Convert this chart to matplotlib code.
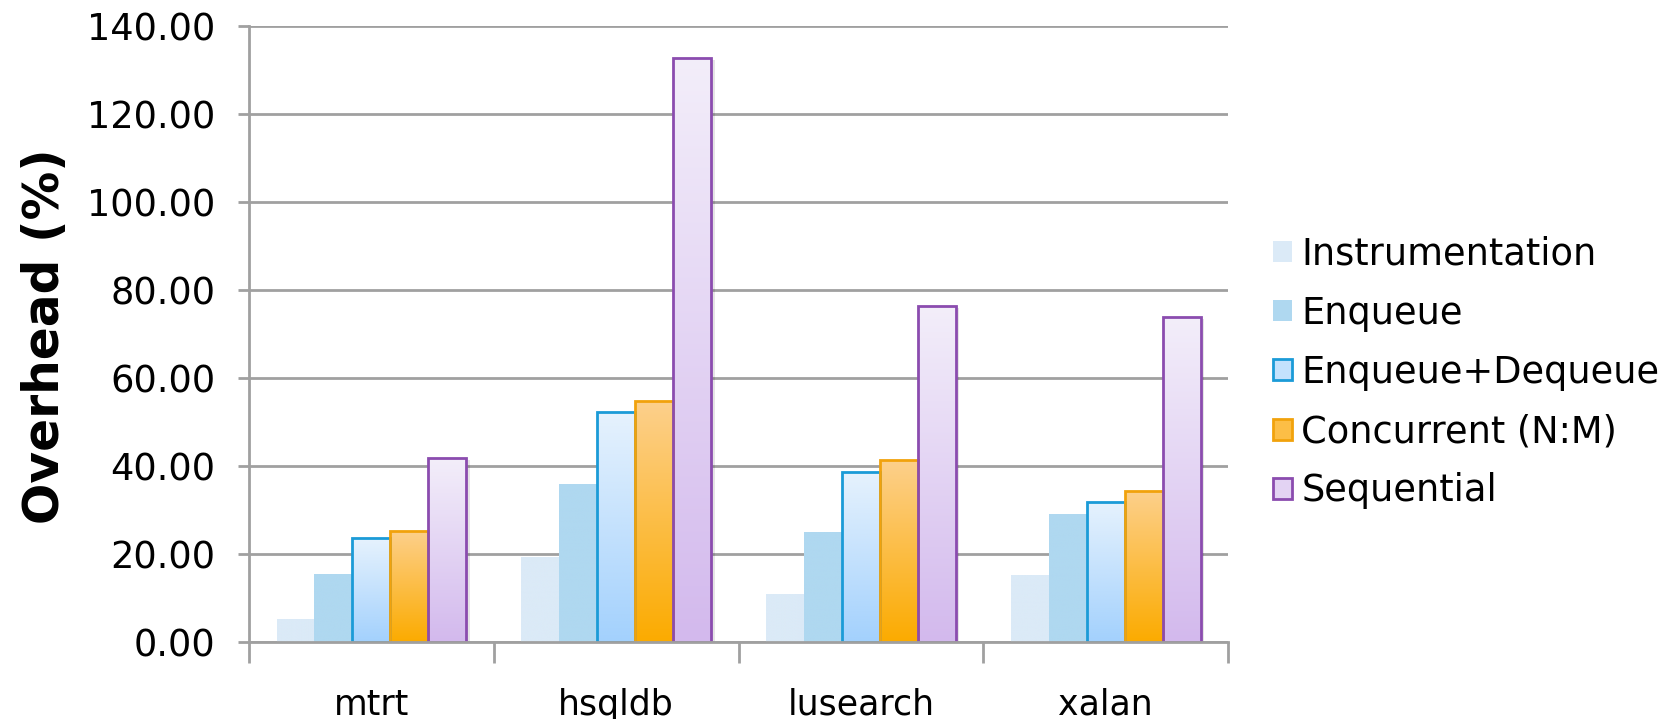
import numpy as np
import matplotlib
matplotlib.use("Agg")
import matplotlib.pyplot as plt
from matplotlib.patches import Patch
from matplotlib.colors import to_rgb
import matplotlib.patheffects as pe

# Benchmarks and overhead (%) per configuration
benchmarks = ["mtrt", "hsqldb", "lusearch", "xalan"]
series_names = ["Instrumentation", "Enqueue", "Enqueue+Dequeue",
                "Concurrent (N:M)", "Sequential"]
instrumentation = [5.3, 19.4, 10.9, 15.3]
enqueue = [15.5, 36.0, 25.1, 29.2]
enqueue_dequeue = [23.6, 52.2, 38.6, 31.9]
concurrent = [25.3, 54.7, 41.4, 34.4]
sequential = [41.8, 132.7, 76.3, 73.8]
y_ticks = [0, 20, 40, 60, 80, 100, 120, 140]

values = [instrumentation, enqueue, enqueue_dequeue, concurrent, sequential]

# (top colour, bottom colour, edge colour or None)
styles = [
    ("#dbeaf7", "#dbeaf7", None),
    ("#afd8f0", "#afd8f0", None),
    ("#e6f2fd", "#a3d1fd", "#1b9bd7"),
    ("#fdd08c", "#fbab00", "#f1a20c"),
    ("#f3eefa", "#d3b9ed", "#8b4caf"),
]

plt.rcParams["font.family"] = ["DejaVu Sans"]

fig = plt.figure(figsize=(16.71, 7.19), dpi=100)
ax = fig.add_axes([0.149, 0.107, 0.586, 0.857])

grid_col = "#a0a0a0"
bar_w = 0.155
edge_lw = 2.0
x = np.arange(len(benchmarks))

for i, (vals, (top, bot, edge)) in enumerate(zip(values, styles)):
    pos = x + (i - 2) * bar_w
    # soft drop shadow behind each bar
    ax.bar(pos, vals, width=bar_w, facecolor="none", edgecolor="none",
           zorder=1.4,
           path_effects=[pe.SimplePatchShadow(offset=(2.5, -1.5),
                                               shadow_rgbFace="k",
                                               alpha=0.10)])
    bars = ax.bar(pos, vals, width=bar_w, facecolor="none",
                  edgecolor=edge if edge else "none",
                  linewidth=edge_lw if edge else 0, zorder=2)
    c_top = np.array(to_rgb(top))
    c_bot = np.array(to_rgb(bot))
    t = np.linspace(0, 1, 256)[:, None]
    grad = (c_top[None, :] * (1 - t) + c_bot[None, :] * t)[:, None, :]
    for b in bars:
        bx, by = b.get_x(), b.get_y()
        bw, bh = b.get_width(), b.get_height()
        im = ax.imshow(grad, extent=[bx, bx + bw, by, by + bh],
                       aspect="auto", origin="upper", zorder=1.9,
                       interpolation="bilinear")
        im.set_clip_path(b)

ax.set_xlim(-0.5, len(benchmarks) - 0.5)
ax.set_ylim(0, 140)
ax.set_yticks(y_ticks)
ax.set_yticklabels([f"{v:.2f}" for v in y_ticks])
ax.yaxis.grid(True, color=grid_col, linewidth=2.0)
ax.set_axisbelow(True)

for side in ["top", "right"]:
    ax.spines[side].set_visible(False)
for side in ["left", "bottom"]:
    ax.spines[side].set_color(grid_col)
    ax.spines[side].set_linewidth(2.0)

ax.tick_params(axis="y", length=8, width=2.0, color=grid_col,
               labelsize=26.5, pad=16)
ax.set_xticks(x)
ax.set_xticklabels(benchmarks)
ax.set_xticks(np.arange(len(benchmarks) + 1) - 0.5, minor=True)
ax.tick_params(axis="x", which="major", length=0, labelsize=25, pad=33)
ax.tick_params(axis="x", which="minor", length=15, width=2.0,
               color=grid_col)

fig.text(0.027, 0.533, "Overhead (%)", rotation=90, fontsize=35,
         fontweight="bold", ha="center", va="center")

handles = []
for name, (top, bot, edge) in zip(series_names, styles):
    mid = tuple((np.array(to_rgb(top)) + np.array(to_rgb(bot))) / 2)
    handles.append(Patch(facecolor=mid, edgecolor=edge if edge else mid,
                         linewidth=edge_lw if edge else 0, label=name))

fig.legend(handles=handles, loc="upper left",
           bbox_to_anchor=(0.762, 0.672), frameon=False, fontsize=26.5,
           handlelength=0.5, handleheight=0.5, handletextpad=0.26,
           labelspacing=0.6, borderpad=0, borderaxespad=0)

fig.savefig("out.png", dpi=100, facecolor="white")
